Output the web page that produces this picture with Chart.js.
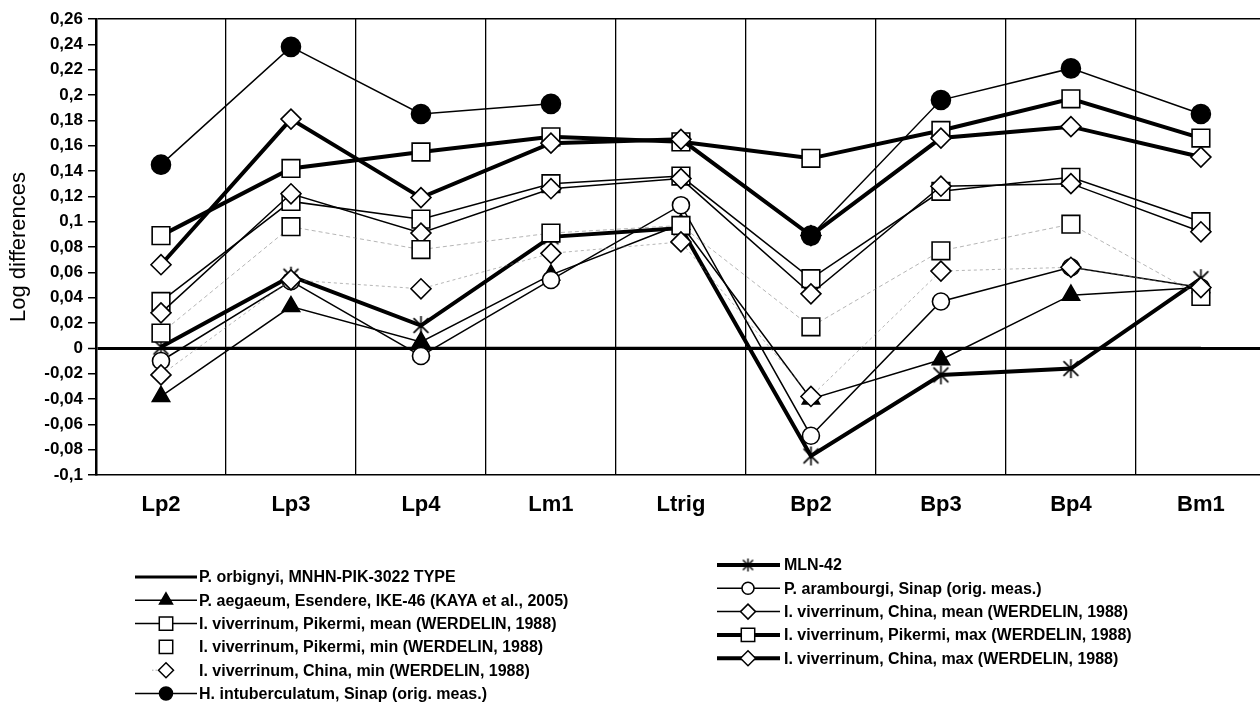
<!DOCTYPE html>
<html lang="en">
<head>
<meta charset="utf-8"/>
<title>Log differences</title>
<script src="https://cdn.jsdelivr.net/npm/chart.js"></script>
<style>
  html, body { margin: 0; padding: 0; background: #fff; overflow: hidden; }
  #wrap { width: 1280px; height: 715px; }
</style>
</head>
<body>
<div id="wrap"><canvas id="chart" width="1280" height="715"></canvas></div>
<script>
// tooth measurements along the x axis
const teeth = ['Lp2', 'Lp3', 'Lp4', 'Lm1', 'Ltrig', 'Bp2', 'Bp3', 'Bp4', 'Bm1'];

// log differences against the type specimen
const orbignyi     = [0, 0, 0, 0, 0, 0, 0, 0, 0];
const mln42        = [0.001, 0.057, 0.018, 0.088, 0.095, -0.085, -0.021, -0.016, 0.055];
const aegaeum      = [-0.038, 0.033, 0.005, 0.058, 0.098, -0.040, -0.009, 0.042, 0.048];
const arambourgi   = [-0.010, 0.053, -0.006, 0.054, 0.113, -0.069, 0.037, 0.064, 0.048];
const pikermiMean  = [0.037, 0.116, 0.102, 0.130, 0.136, 0.055, 0.124, 0.135, 0.100];
const chinaMean    = [0.028, 0.122, 0.091, 0.126, 0.134, 0.043, 0.128, 0.130, 0.092];
const pikermiMin   = [0.012, 0.096, 0.078, 0.091, 0.097, 0.017, 0.077, 0.098, 0.041];
const pikermiMax   = [0.089, 0.142, 0.155, 0.167, 0.163, 0.150, 0.172, 0.197, 0.166];
const chinaMin     = [-0.021, 0.054, 0.047, 0.075, 0.084, -0.038, 0.061, 0.064, 0.048];
const chinaMax     = [0.066, 0.181, 0.119, 0.162, 0.165, 0.089, 0.166, 0.175, 0.151];
const intuberc     = [0.145, 0.238, 0.185, 0.193, null, 0.089, 0.196, 0.221, 0.185];

const yMin = -0.1, yMax = 0.26, yStep = 0.02;

const FONT = '"Liberation Sans", Arial, sans-serif';

// asterisk marker: an X with a vertical stroke
function makeStar(size, lw) {
  const c = document.createElement('canvas');
  c.width = size; c.height = size;
  const g = c.getContext('2d');
  g.strokeStyle = '#000';
  g.lineWidth = lw;
  const m = size / 2, r = size / 2 - 1;
  const d = r * 0.78;
  g.beginPath();
  g.moveTo(m, m - r); g.lineTo(m, m + r);
  g.moveTo(m - d, m - d); g.lineTo(m + d, m + d);
  g.moveTo(m + d, m - d); g.lineTo(m - d, m + d);
  g.stroke();
  return c;
}
const starBig = makeStar(21, 1.6);
const starSmall = makeStar(15, 1.4);

function series(label, data, opts) {
  return Object.assign({
    label: label,
    data: data,
    borderColor: '#000',
    borderWidth: 1.5,
    backgroundColor: '#fff',
    pointBorderColor: '#000',
    pointBackgroundColor: '#fff',
    pointBorderWidth: 1.6,
    pointRadius: 0,
    pointStyle: 'circle',
    tension: 0,
    spanGaps: false,
    fill: false
  }, opts);
}

const datasets = [
  series('P. orbignyi, MNHN-PIK-3022 TYPE', orbignyi, { borderWidth: 3 }),
  series('MLN-42', mln42, { borderWidth: 4, pointStyle: starBig, pointRadius: 10 }),
  series('P. aegaeum, Esendere, IKE-46 (KAYA et al., 2005)', aegaeum,
    { pointStyle: 'triangle', pointRadius: 10, pointBackgroundColor: '#000' }),
  series('P. arambourgi, Sinap (orig. meas.)', arambourgi, { pointStyle: 'circle', pointRadius: 8.5 }),
  series('I. viverrinum, Pikermi, mean (WERDELIN, 1988)', pikermiMean, { pointStyle: 'rect', pointRadius: 12.5 }),
  series('I. viverrinum, China, mean (WERDELIN, 1988)', chinaMean, { pointStyle: 'rectRot', pointRadius: 10 }),
  series('I. viverrinum, Pikermi, min (WERDELIN, 1988)', pikermiMin,
    { borderWidth: 1, borderColor: 'rgba(120,120,120,0.55)', borderDash: [4, 3], pointStyle: 'rect', pointRadius: 12.5 }),
  series('I. viverrinum, Pikermi, max (WERDELIN, 1988)', pikermiMax, { borderWidth: 4, pointStyle: 'rect', pointRadius: 12.5 }),
  series('I. viverrinum, China, min (WERDELIN, 1988)', chinaMin,
    { borderWidth: 1, borderColor: 'rgba(120,120,120,0.55)', borderDash: [3, 3], pointStyle: 'rectRot', pointRadius: 10 }),
  series('I. viverrinum, China, max (WERDELIN, 1988)', chinaMax, { borderWidth: 4, pointStyle: 'rectRot', pointRadius: 10 }),
  series('H. intuberculatum, Sinap (orig. meas.)', intuberc,
    { pointStyle: 'circle', pointRadius: 9.5, pointBackgroundColor: '#000' })
];
// later series sit on top
datasets.forEach((d, i) => { d.order = datasets.length - i; });

// two-column legend drawn under the plot
const legendItems = [
  { ds: 0, col: 0, row: 0, line: true, marker: 0 },
  { ds: 2, col: 0, row: 1, line: true, marker: 7.5 },
  { ds: 4, col: 0, row: 2, line: true, marker: 9.5 },
  { ds: 6, col: 0, row: 3, line: false, marker: 9.5 },
  { ds: 8, col: 0, row: 4, line: 'dots', marker: 7.5 },
  { ds: 10, col: 0, row: 5, line: true, marker: 6.5 },
  { ds: 1, col: 1, row: 0, line: true, marker: 0 },
  { ds: 3, col: 1, row: 1, line: true, marker: 6 },
  { ds: 5, col: 1, row: 2, line: true, marker: 7.5 },
  { ds: 7, col: 1, row: 3, line: true, marker: 9.5 },
  { ds: 9, col: 1, row: 4, line: true, marker: 7.5 }
];
const legendCols = [
  { x0: 135, x1: 197, mx: 166, tx: 199, y0: 577, dy: 23.3 },
  { x0: 717, x1: 780, mx: 748, tx: 784, y0: 565, dy: 23.3 }
];

const columnLegend = {
  id: 'columnLegend',
  afterDraw(chart) {
    const ctx = chart.ctx;
    const helpers = Chart.helpers;
    ctx.save();
    legendItems.forEach(it => {
      const ds = chart.data.datasets[it.ds];
      const c = legendCols[it.col];
      const y = c.y0 + it.row * c.dy;
      ctx.setLineDash([]);
      if (it.line === true) {
        ctx.strokeStyle = '#000';
        ctx.lineWidth = ds.borderWidth;
        ctx.beginPath();
        ctx.moveTo(c.x0, y); ctx.lineTo(c.x1, y);
        ctx.stroke();
      } else if (it.line === 'dots') {
        ctx.strokeStyle = 'rgba(120,120,120,0.6)';
        ctx.lineWidth = 1;
        ctx.setLineDash([1.5, 2]);
        ctx.beginPath();
        ctx.moveTo(c.mx - 14, y); ctx.lineTo(c.mx - 6, y);
        ctx.stroke();
        ctx.setLineDash([]);
      }
      if (ds.pointStyle instanceof HTMLCanvasElement) {
        ctx.drawImage(starSmall, c.mx - starSmall.width / 2, y - starSmall.height / 2);
      } else if (it.marker > 0) {
        ctx.fillStyle = ds.pointBackgroundColor;
        ctx.strokeStyle = '#000';
        ctx.lineWidth = 1.5;
        helpers.drawPoint(ctx, { pointStyle: ds.pointStyle, radius: it.marker, rotation: 0, borderWidth: 1.5 }, c.mx, y);
      }
      ctx.fillStyle = '#000';
      ctx.font = 'bold 16px ' + FONT;
      ctx.textBaseline = 'middle';
      ctx.textAlign = 'left';
      ctx.fillText(ds.label, c.tx, y + 1);
    });
    ctx.restore();
  }
};

function fmtTick(v) {
  const s = String(parseFloat(v.toFixed(2)));
  return s.replace('.', ',');
}

new Chart(document.getElementById('chart'), {
  type: 'line',
  data: { labels: teeth, datasets: datasets },
  options: {
    responsive: false,
    animation: false,
    events: [],
    layout: { padding: { top: 19, right: 6, left: 0, bottom: 0 } },
    plugins: {
      legend: { display: false },
      tooltip: { enabled: false }
    },
    scales: {
      x: {
        type: 'category',
        offset: true,
        afterFit: s => { s.height = 240; },
        grid: { offset: true, color: '#000', lineWidth: 1.3, drawTicks: false },
        border: { color: '#000', width: 1.5 },
        ticks: {
          color: '#000',
          padding: 17,
          font: { family: FONT, size: 22, weight: 'bold' }
        }
      },
      y: {
        min: yMin,
        max: yMax,
        afterFit: s => { s.width = 96; },
        grid: {
          color: c => (Math.abs(c.tick.value) < 1e-9 || Math.abs(c.tick.value - yMax) < 1e-9) ? '#000' : 'rgba(0,0,0,0)',
          lineWidth: c => Math.abs(c.tick.value) < 1e-9 ? 3 : 1.5,
          tickColor: '#000',
          tickLength: 8,
          tickWidth: 1.5
        },
        border: { color: '#000', width: 2.5 },
        ticks: {
          stepSize: yStep,
          color: '#000',
          padding: 5,
          font: { family: FONT, size: 17, weight: 'bold' },
          callback: v => fmtTick(v)
        },
        title: {
          display: true,
          text: 'Log differences',
          color: '#000',
          padding: { top: 6, bottom: 0 },
          font: { family: FONT, size: 22 }
        }
      }
    }
  },
  plugins: [columnLegend]
});
</script>
</body>
</html>
